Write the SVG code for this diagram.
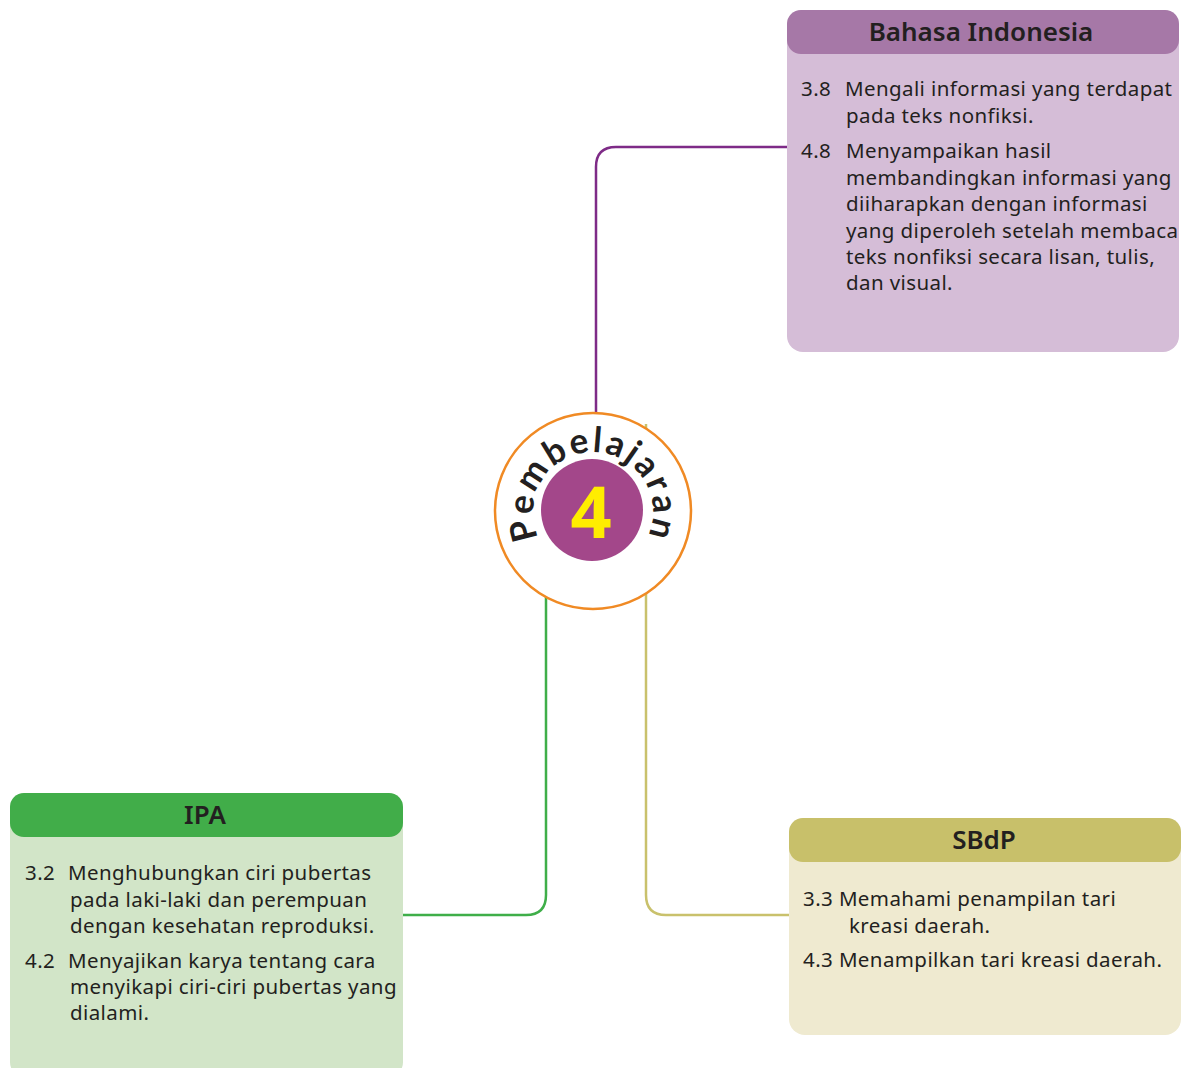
<svg xmlns="http://www.w3.org/2000/svg" width="1184" height="1068" viewBox="0 0 1184 1068">
<style>
.t{font-family:"Noto Sans","Open Sans",sans-serif;font-size:20.5px;letter-spacing:0.4px;fill:#231f20}
.h{font-family:"Noto Sans","Open Sans",sans-serif;font-size:26px;font-weight:600;fill:#231f20;text-anchor:middle}
.ln{fill:none;stroke-width:2.5}
</style>
<defs>
<path id="arc" d="M 536.6 532.5 A 60 60 0 1 1 649.4 532.5"/>
</defs>
<rect width="1184" height="1068" fill="#ffffff"/>
<g id="connectors">
<path class="ln" stroke="#7e2b87" d="M 787 147 H 616 Q 596 147 596 167 V 414"/>
<path class="ln" stroke="#3fae49" d="M 546 560 V 895 Q 546 915 526 915 H 403"/>
<path class="ln" stroke="#c9c16c" d="M 646 424 V 895 Q 646 915 666 915 H 789"/>
</g>
<g id="center">
<circle cx="593" cy="511" r="98" fill="#ffffff" stroke="#f08a24" stroke-width="2.5"/>
<circle cx="592" cy="510" r="51" fill="#a3478a"/>
<text x="591" y="538" font-family="'Noto Sans',sans-serif" font-size="72" font-weight="700" fill="#ffed00" text-anchor="middle">4</text>
<text font-family="Lato,'Noto Sans',sans-serif" font-size="35" font-weight="700" fill="#231f20" letter-spacing="2.5"><textPath href="#arc" startOffset="50%" text-anchor="middle">Pembelajaran</textPath></text>
</g>
<g id="bahasa-indonesia">
<rect x="787" y="10" width="392" height="342" rx="16" fill="#d5bdd7"/>
<rect x="787" y="10" width="392" height="44" rx="14" fill="#a678a7"/>
<text class="h" x="981" y="41">Bahasa Indonesia</text>
<text class="t" x="801" y="96">3.8</text><text class="t" x="845" y="96">Mengali informasi yang terdapat</text>
<text class="t" x="846" y="123">pada teks nonfiksi.</text>
<text class="t" x="801" y="158">4.8</text><text class="t" x="846" y="158">Menyampaikan hasil</text>
<text class="t" x="846" y="185">membandingkan informasi yang</text>
<text class="t" x="846" y="211">diiharapkan dengan informasi</text>
<text class="t" x="846" y="238">yang diperoleh setelah membaca</text>
<text class="t" x="846" y="264">teks nonfiksi secara lisan, tulis,</text>
<text class="t" x="846" y="290">dan visual.</text>
</g>
<g id="ipa">
<rect x="10" y="793" width="393" height="285" rx="16" fill="#d2e5c8"/>
<rect x="10" y="793" width="393" height="44" rx="14" fill="#41ad49"/>
<text class="h" x="205" y="824">IPA</text>
<text class="t" x="25" y="880">3.2</text><text class="t" x="68" y="880">Menghubungkan ciri pubertas</text>
<text class="t" x="70" y="907">pada laki-laki dan perempuan</text>
<text class="t" x="70" y="933">dengan kesehatan reproduksi.</text>
<text class="t" x="25" y="968">4.2</text><text class="t" x="68" y="968">Menyajikan karya tentang cara</text>
<text class="t" x="70" y="994">menyikapi ciri-ciri pubertas yang</text>
<text class="t" x="70" y="1020">dialami.</text>
</g>
<g id="sbdp">
<rect x="789" y="818" width="392" height="217" rx="16" fill="#efead0"/>
<rect x="789" y="818" width="392" height="44" rx="14" fill="#c8c06a"/>
<text class="h" x="984" y="849">SBdP</text>
<text class="t" x="803" y="906">3.3 Memahami penampilan tari</text>
<text class="t" x="849" y="933">kreasi daerah.</text>
<text class="t" x="803" y="967">4.3 Menampilkan tari kreasi daerah.</text>
</g>
</svg>
